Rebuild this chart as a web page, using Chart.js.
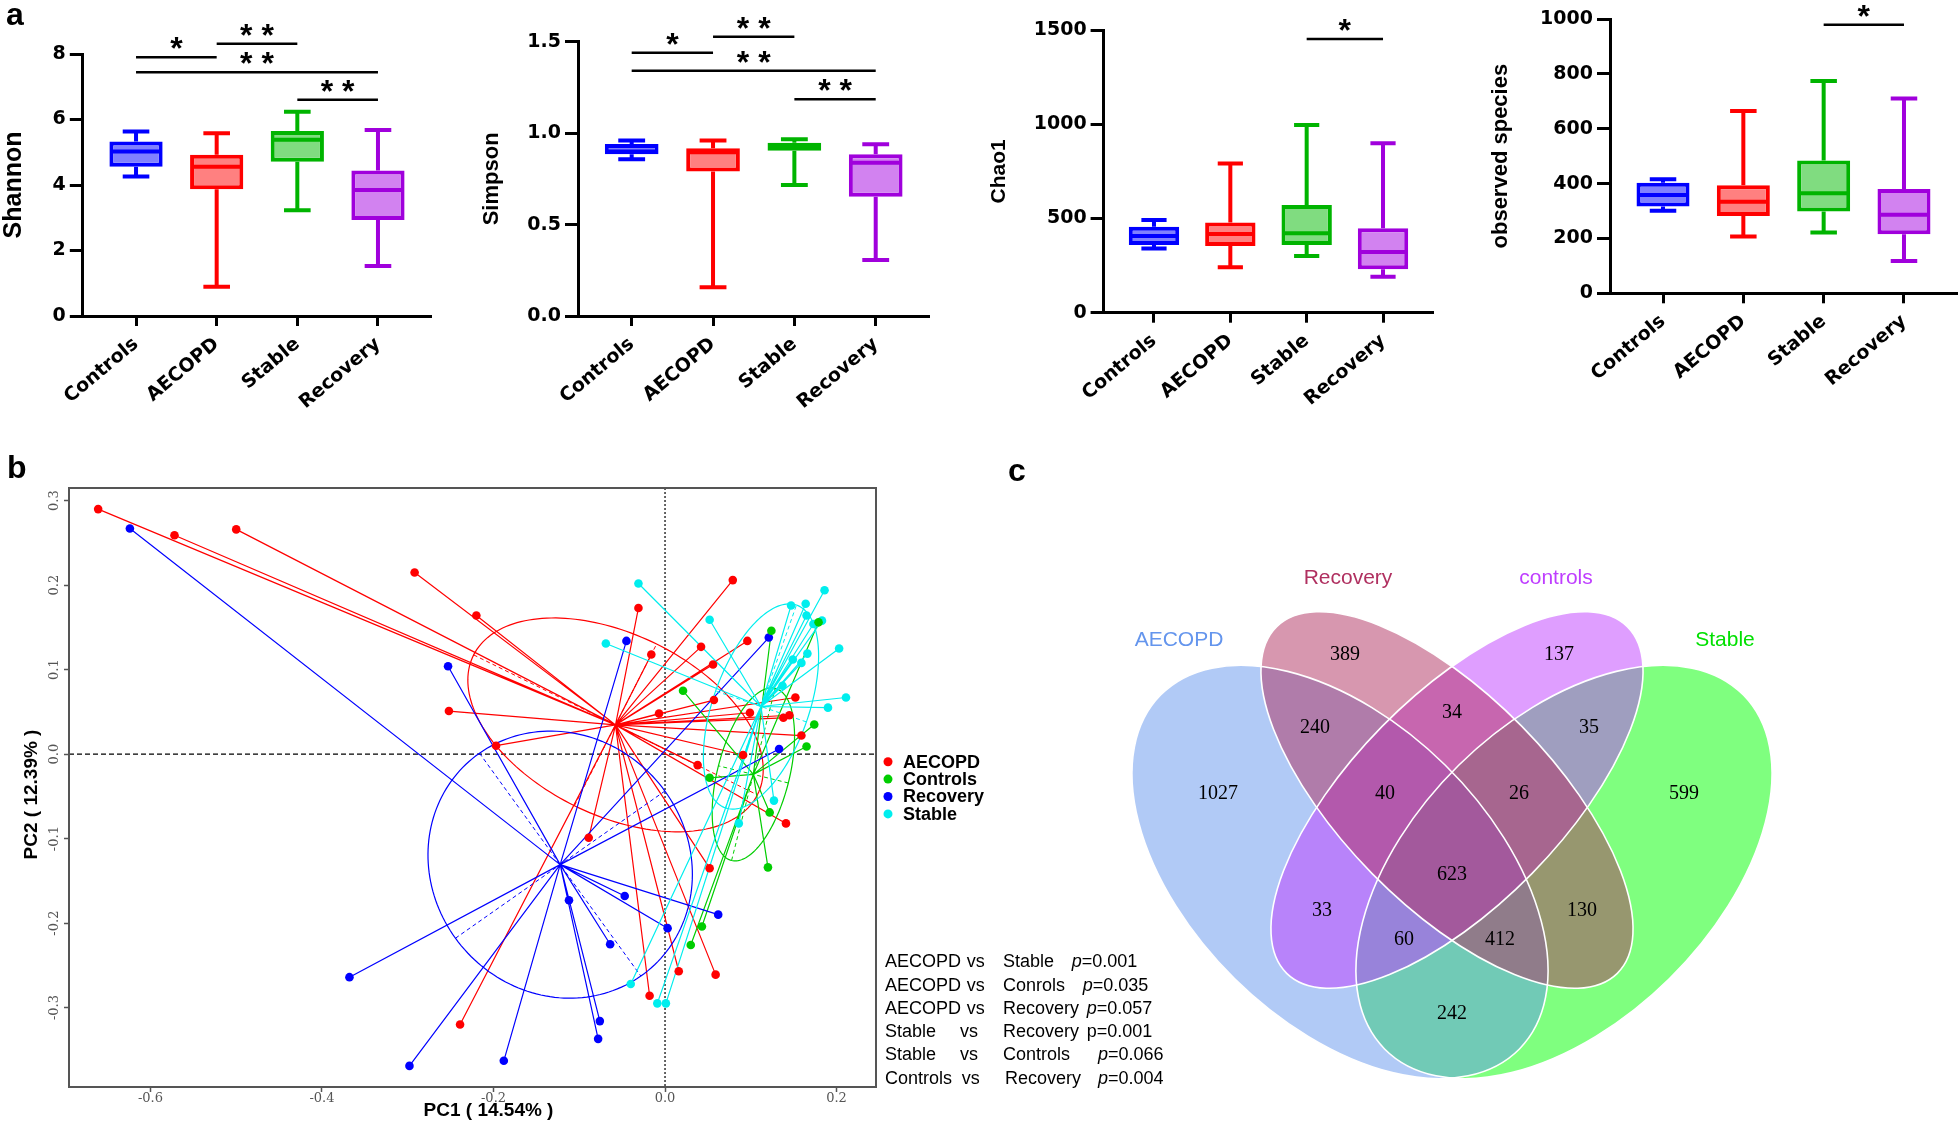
<!DOCTYPE html>
<html>
<head>
<meta charset="utf-8">
<script src="https://cdn.jsdelivr.net/npm/chart.js@4/dist/chart.umd.min.js"></script>
<style>
  html, body { margin:0; padding:0; background:#ffffff; }
  body { position:relative; width:1960px; height:1124px; overflow:hidden; font-family:"Liberation Sans", Arial, sans-serif; }
  canvas { position:absolute; }
  .panel { position:absolute; font-weight:bold; font-size:32px; line-height:1; color:#000; font-family:"Liberation Sans", Arial, sans-serif; }
  .pv { position:absolute; font-size:18px; line-height:1; color:#000; white-space:pre; font-family:"Liberation Sans", Arial, sans-serif; }
</style>
</head>
<body>
<script>
// ---------------- DATA ----------------
const categories = ['Controls', 'AECOPD', 'Stable', 'Recovery'];
// [min, Q1, median, Q3, max] per group
const shannonStats  = [[4.26,4.56,5.02,5.33,5.63],[0.89,3.87,4.56,4.92,5.58],[3.23,4.71,5.38,5.65,6.24],[1.53,2.93,3.85,4.44,5.68]];
const simpsonStats  = [[0.857,0.885,0.900,0.940,0.960],[0.157,0.790,0.895,0.917,0.960],[0.716,0.904,0.926,0.948,0.966],[0.306,0.652,0.838,0.884,0.939]];
const chao1Stats    = [[341,359,407,456,492],[241,354,417,478,792],[301,359,421,571,996],[191,230,322,448,899]];
const observedStats = [[301,316,358,403,416],[207,282,334,394,665],[222,298,365,484,774],[118,215,286,380,710]];
const shannonTicks  = [0,2,4,6,8];
const simpsonTicks  = [0,0.5,1.0,1.5];
const chao1Ticks    = [0,500,1000,1500];
const observedTicks = [0,200,400,600,800,1000];
// [groupA, groupB, bar height, label]
const shannonSig  = [[0,1,7.90,'*'],[1,2,8.31,'**'],[0,3,7.44,'**'],[2,3,6.60,'**']];
const simpsonSig  = [[0,1,1.440,'*'],[1,2,1.527,'**'],[0,3,1.341,'**'],[2,3,1.185,'**']];
const chao1Sig    = [[2,3,1452,'*']];
const observedSig = [[2,3,979,'*']];

const pcGroups = ['AECOPD','Controls','Recovery','Stable'];
const aecopdPts = [[-0.661,0.290],[-0.572,0.259],[-0.500,0.266],[-0.292,0.215],[-0.252,0.051],[-0.220,0.164],[-0.197,0.010],[-0.031,0.173],[-0.016,0.118],[0.079,0.206],[0.042,0.127],[0.056,0.106],[0.096,0.134],[-0.007,0.048],[0.057,0.064],[0.152,0.067],[0.099,0.049],[0.138,0.043],[0.145,0.046],[0.159,0.022],[0.091,-0.001],[0.038,-0.013],[-0.089,-0.099],[-0.239,-0.320],[-0.018,-0.286],[0.016,-0.257],[0.059,-0.261],[0.052,-0.135],[0.141,-0.082]];
const controlsPts = [[0.021,0.075],[0.124,0.146],[0.179,0.156],[0.174,0.035],[0.165,0.009],[0.052,-0.028],[0.122,-0.069],[0.120,-0.134],[0.043,-0.204],[0.030,-0.226]];
const recoveryPts = [[-0.624,0.267],[-0.253,0.104],[-0.045,0.134],[0.121,0.138],[0.133,0.006],[-0.368,-0.264],[-0.298,-0.369],[-0.188,-0.363],[-0.112,-0.173],[-0.047,-0.168],[-0.064,-0.225],[0.003,-0.206],[0.062,-0.190],[-0.076,-0.316],[-0.078,-0.337]];
const stablePts = [[-0.031,0.202],[-0.069,0.131],[0.052,0.159],[0.147,0.176],[0.164,0.178],[0.186,0.194],[0.165,0.164],[0.173,0.154],[0.183,0.158],[0.203,0.125],[0.166,0.119],[0.149,0.112],[0.159,0.108],[0.137,0.081],[0.211,0.067],[0.190,0.055],[0.127,-0.055],[0.086,-0.082],[-0.040,-0.272],[-0.009,-0.295],[0.001,-0.295]];
// confidence ellipses: [semi-major, semi-minor, angle deg] in PC units
const pcEllipses = [[0.185,0.107,-26.6],[0.105,0.042,76],[0.162,0.150,-54.5],[0.127,0.056,71]];
const pcXTicks = [-0.6,-0.4,-0.2,0.0,0.2];
const pcYTicks = [-0.3,-0.2,-0.1,0.0,0.1,0.2,0.3];
const pcXTitle = 'PC1 ( 14.54% )';
const pcYTitle = 'PC2 ( 12.39% )';
const pvRows = [
  ['AECOPD','vs','Stable','p','=0.001',true],
  ['AECOPD','vs','Conrols','p','=0.035',true],
  ['AECOPD','vs','Recovery','p','=0.057',true],
  ['Stable','vs','Recovery','p','=0.001',false],
  ['Stable','vs','Controls','p','=0.066',true],
  ['Controls','vs','Recovery','p','=0.004',true]
];

const vennSets = ['AECOPD','Recovery','controls','Stable'];
// regions: A, R, C, S, AR, RC, CS, ARC, RCS, ARCS, AC, RS, ACS, ARS, AS
const vennCounts = [1027,389,137,599,240,34,35,40,26,623,33,130,60,412,242];

// ---------------- STYLE / LAYOUT ----------------
const boxStroke = ['#0000FF','#FF0000','#00B400','#A000DC'];
const boxFill   = ['#8080FF','#FF8080','#80DC80','#D282F0'];
const pcColors  = ['#FF0000','#00CD00','#0000FF','#00EEEE'];
const vennColors = ['#6495ED','#B03060','#BF3EFF','#00FF00'];
const vennLabelColors = ['#6495ED','#B03060','#BF3EFF','#00E000'];

const boxPanels = [
  {stats:shannonStats, ticks:shannonTicks, sig:shannonSig, title:'Shannon', dec:0},
  {stats:simpsonStats, ticks:simpsonTicks, sig:simpsonSig, title:'Simpson', dec:1},
  {stats:chao1Stats, ticks:chao1Ticks, sig:chao1Sig, title:'Chao1', dec:0},
  {stats:observedStats, ticks:observedTicks, sig:observedSig, title:'observed species', dec:0}
];
const boxLayout = [
  {left:0,    w:460, h:420, padTop:54,   padRight:28.8, yW:82.8,  xH:104,   titleSize:25, titlePad:1.5},
  {left:470,  w:480, h:420, padTop:41.7, padRight:20.6, yW:108,   xH:104,   titleSize:22, titlePad:11},
  {left:975,  w:470, h:420, padTop:30,   padRight:11.6, yW:128.6, xH:107.3, titleSize:21, titlePad:13.5},
  {left:1478, w:482, h:420, padTop:19,   padRight:3,    yW:132,   xH:126.7, titleSize:22, titlePad:12}
];
const vennShapes = [ // geometry in page pixels
  {cx:1340, cy:872, a:252, b:150, rot:44.6},   // AECOPD
  {cx:1447, cy:800, a:243, b:105, rot:45.5},   // Recovery
  {cx:1457, cy:800, a:243, b:105, rot:-45.5},  // controls
  {cx:1564, cy:872, a:252, b:150, rot:-44.6}   // Stable
];
const vennDrawOrder = [3,0,2,1];
const vennCountPos = [[1218,794],[1345,655],[1559,655],[1684,794],[1315,728],[1452,713],[1589,728],[1385,794],[1519,794],[1452,875],[1322,911],[1582,911],[1404,940],[1500,940],[1452,1014]];
const vennSetLabelPos = [[1179,640],[1348,578],[1556,578],[1725,640]];

Chart.defaults.font.family = "'Liberation Sans', Arial, sans-serif";
Chart.defaults.color = '#000';

function addCanvas(id, left, top, w, h) {
  const c = document.createElement('canvas');
  c.id = id; c.width = w; c.height = h;
  c.style.left = left + 'px'; c.style.top = top + 'px';
  c.style.width = w + 'px'; c.style.height = h + 'px';
  document.body.appendChild(c);
  return c;
}

// ---------------- PANEL a: box plots ----------------
function makeBoxChart(i) {
  const L = boxLayout[i], P = boxPanels[i];
  const cv = addCanvas('box' + i, L.left, 0, L.w, L.h);
  const yMax = P.ticks[P.ticks.length - 1];
  const whiskers = {
    id: 'whiskers' + i,
    afterDatasetsDraw(chart) {
      const {ctx, scales: {x, y}} = chart;
      const meta = chart.getDatasetMeta(0);
      ctx.save();
      P.stats.forEach((s, k) => {
        const el = meta.data[k];
        const cx = el.x, w = el.width;
        const py = s.map(v => y.getPixelForValue(v));
        ctx.strokeStyle = boxStroke[k]; ctx.lineWidth = 4; ctx.lineCap = 'butt';
        ctx.beginPath();
        ctx.moveTo(cx, py[3]); ctx.lineTo(cx, py[4]);
        ctx.moveTo(cx, py[1]); ctx.lineTo(cx, py[0]);
        ctx.moveTo(cx - w / 4, py[4]); ctx.lineTo(cx + w / 4, py[4]);
        ctx.moveTo(cx - w / 4, py[0]); ctx.lineTo(cx + w / 4, py[0]);
        ctx.moveTo(cx - w / 2 + 2, py[2]); ctx.lineTo(cx + w / 2 - 2, py[2]);
        ctx.stroke();
      });
      ctx.strokeStyle = '#000'; ctx.fillStyle = '#000'; ctx.lineWidth = 2.5;
      ctx.font = "bold 32px 'Liberation Sans', Arial, sans-serif";
      ctx.textAlign = 'center'; ctx.textBaseline = 'alphabetic';
      P.sig.forEach(([a, b, v, lab]) => {
        const x1 = x.getPixelForValue(a), x2 = x.getPixelForValue(b), yy = y.getPixelForValue(v);
        ctx.beginPath(); ctx.moveTo(x1, yy); ctx.lineTo(x2, yy); ctx.stroke();
        ctx.fillText(lab.split('').join(' '), (x1 + x2) / 2, yy + 2);
      });
      ctx.restore();
    }
  };
  new Chart(cv, {
    type: 'bar',
    data: {
      datasets: [{
        data: P.stats.map((s, k) => ({x: k, y: [s[1], s[3]]})),
        backgroundColor: boxFill, borderColor: boxStroke, borderWidth: 4,
        borderSkipped: false, barPercentage: 0.66, categoryPercentage: 1, inflateAmount: 0
      }]
    },
    options: {
      responsive: false, animation: false, events: [], devicePixelRatio: 1,
      layout: {padding: {left: 0, top: L.padTop, right: L.padRight, bottom: 0}},
      plugins: {legend: {display: false}, tooltip: {enabled: false}},
      scales: {
        x: {
          type: 'linear', min: -0.66, max: 3.66, offset: false,
          afterBuildTicks: s => { s.ticks = categories.map((c, k) => ({value: k})); },
          afterFit: s => { s.height = L.xH; s.paddingLeft = 0; s.paddingRight = 0; },
          ticks: {autoSkip: false, minRotation: 40, maxRotation: 40, padding: 7, color: '#000',
                  font: {family: "'DejaVu Sans', sans-serif", weight: 'bold', size: 19},
                  callback: v => categories[v]},
          grid: {display: true, drawOnChartArea: false, drawTicks: true, tickLength: 10, tickWidth: 3, tickColor: '#000', offset: false},
          border: {display: true, width: 3, color: '#000'}
        },
        y: {
          min: 0, max: yMax,
          afterBuildTicks: s => { s.ticks = P.ticks.map(v => ({value: v})); },
          afterFit: s => { s.width = L.yW; s.paddingTop = 0; s.paddingBottom = 0; },
          ticks: {autoSkip: false, padding: 4, color: '#000',
                  font: {family: "'DejaVu Sans', sans-serif", weight: 'bold', size: 19},
                  callback: v => Number(v).toFixed(P.dec)},
          title: {display: true, text: P.title, color: '#000',
                  font: {family: "'Liberation Sans', Arial, sans-serif", weight: 'bold', size: L.titleSize, lineHeight: 1},
                  padding: {top: L.titlePad, bottom: 0}},
          grid: {display: true, drawOnChartArea: false, drawTicks: true, tickLength: 13, tickWidth: 3, tickColor: '#000'},
          border: {display: true, width: 3, color: '#000'}
        }
      }
    },
    plugins: [whiskers]
  });
}
for (let i = 0; i < 4; i++) makeBoxChart(i);

// ---------------- PANEL b: PCoA ----------------
const pcSets = [aecopdPts, controlsPts, recoveryPts, stablePts];
function centroid(pts) {
  let sx = 0, sy = 0;
  pts.forEach(p => { sx += p[0]; sy += p[1]; });
  return [sx / pts.length, sy / pts.length];
}
const pcPlugin = {
  id: 'pcoa',
  beforeDatasetsDraw(chart) {
    const {ctx, chartArea: ca, scales: {x, y}} = chart;
    ctx.save();
    ctx.beginPath(); ctx.rect(ca.left, ca.top, ca.right - ca.left, ca.bottom - ca.top); ctx.clip();
    const x0 = x.getPixelForValue(0), y0 = y.getPixelForValue(0);
    ctx.lineWidth = 1.3; ctx.strokeStyle = '#000'; ctx.setLineDash([5, 3]);
    ctx.beginPath(); ctx.moveTo(ca.left, y0); ctx.lineTo(ca.right, y0); ctx.stroke();
    ctx.strokeStyle = '#333'; ctx.lineWidth = 1.5; ctx.setLineDash([2, 2]);
    ctx.beginPath(); ctx.moveTo(x0, ca.top); ctx.lineTo(x0, ca.bottom); ctx.stroke();
    ctx.setLineDash([]);
    pcSets.forEach((pts, g) => {
      const c = centroid(pts);
      const cxp = x.getPixelForValue(c[0]), cyp = y.getPixelForValue(c[1]);
      ctx.strokeStyle = pcColors[g]; ctx.lineWidth = 1.2;
      ctx.beginPath();
      pts.forEach(p => { ctx.moveTo(cxp, cyp); ctx.lineTo(x.getPixelForValue(p[0]), y.getPixelForValue(p[1])); });
      ctx.stroke();
      const [a, b, angDeg] = pcEllipses[g];
      const ph = angDeg * Math.PI / 180, cp = Math.cos(ph), sp = Math.sin(ph);
      ctx.beginPath();
      for (let k = 0; k <= 180; k++) {
        const t = k / 180 * 2 * Math.PI;
        const dx = a * Math.cos(t) * cp - b * Math.sin(t) * sp;
        const dy = a * Math.cos(t) * sp + b * Math.sin(t) * cp;
        const px = x.getPixelForValue(c[0] + dx), py = y.getPixelForValue(c[1] + dy);
        if (k === 0) ctx.moveTo(px, py); else ctx.lineTo(px, py);
      }
      ctx.stroke();
      ctx.setLineDash([4, 3]); ctx.lineWidth = 1;
      ctx.beginPath();
      ctx.moveTo(x.getPixelForValue(c[0] - a * cp), y.getPixelForValue(c[1] - a * sp));
      ctx.lineTo(x.getPixelForValue(c[0] + a * cp), y.getPixelForValue(c[1] + a * sp));
      ctx.moveTo(x.getPixelForValue(c[0] + b * sp), y.getPixelForValue(c[1] - b * cp));
      ctx.lineTo(x.getPixelForValue(c[0] - b * sp), y.getPixelForValue(c[1] + b * cp));
      ctx.stroke();
      ctx.setLineDash([]);
    });
    ctx.restore();
  },
  afterDraw(chart) {
    const {ctx, chartArea: ca} = chart;
    ctx.save();
    ctx.strokeStyle = '#555'; ctx.lineWidth = 2;
    ctx.strokeRect(ca.left, ca.top, ca.right - ca.left, ca.bottom - ca.top);
    ctx.fillStyle = '#000';
    ctx.font = "bold 19px 'Liberation Sans', Arial, sans-serif";
    ctx.textAlign = 'center'; ctx.textBaseline = 'middle';
    ctx.fillText(pcXTitle, (ca.left + ca.right) / 2 + 16, ca.bottom + 24);
    ctx.save();
    ctx.translate(ca.left - 37, (ca.top + ca.bottom) / 2 + 7);
    ctx.rotate(-Math.PI / 2);
    ctx.fillText(pcYTitle, 0, 0);
    ctx.restore();
    // legend
    ctx.font = "bold 18px 'Liberation Sans', Arial, sans-serif";
    ctx.textAlign = 'left';
    chart.data.datasets.forEach((ds, g) => {
      const ly = 321.7 + g * 17.4;
      ctx.fillStyle = ds.pointBackgroundColor;
      ctx.beginPath(); ctx.arc(888, ly, 4.5, 0, 2 * Math.PI); ctx.fill();
      ctx.fillStyle = '#000';
      ctx.fillText(ds.label, 903, ly + 1);
    });
    ctx.restore();
  }
};
const pcCanvas = addCanvas('pcoa', 0, 440, 1100, 684);
new Chart(pcCanvas, {
  type: 'scatter',
  data: {
    datasets: pcSets.map((pts, g) => ({
      label: pcGroups[g],
      data: pts.map(p => ({x: p[0], y: p[1]})),
      pointRadius: 4.3, pointBackgroundColor: pcColors[g], pointBorderWidth: 0, showLine: false
    }))
  },
  options: {
    responsive: false, animation: false, events: [], devicePixelRatio: 1,
    layout: {padding: {left: 0, top: 48, right: 224, bottom: 0}},
    plugins: {legend: {display: false}, tooltip: {enabled: false}},
    scales: {
      x: {
        type: 'linear', min: -0.695, max: 0.246,
        afterBuildTicks: s => { s.ticks = pcXTicks.map(v => ({value: v})); },
        afterFit: s => { s.height = 37; s.paddingLeft = 0; s.paddingRight = 0; },
        ticks: {autoSkip: false, minRotation: 0, maxRotation: 0, padding: -1, color: '#555',
                font: {family: "'DejaVu Serif', serif", size: 13}, callback: v => Number(v).toFixed(1)},
        grid: {display: true, drawOnChartArea: false, drawTicks: true, tickLength: 5, tickWidth: 1.5, tickColor: '#555'},
        border: {display: false}
      },
      y: {
        type: 'linear', min: -0.394, max: 0.315,
        afterBuildTicks: s => { s.ticks = pcYTicks.map(v => ({value: v})); },
        afterFit: s => { s.width = 69; s.paddingTop = 0; s.paddingBottom = 0; },
        ticks: {autoSkip: false, minRotation: 90, maxRotation: 90, crossAlign: 'center', padding: -3, color: '#555',
                font: {family: "'DejaVu Serif', serif", size: 13}, callback: v => Number(v).toFixed(1)},
        grid: {display: true, drawOnChartArea: false, drawTicks: true, tickLength: 5, tickWidth: 1.5, tickColor: '#555'},
        border: {display: false}
      }
    }
  },
  plugins: [pcPlugin]
});

// ---------------- PANEL c: Venn ----------------
const vennPlugin = {
  id: 'venn',
  beforeDatasetsDraw(chart) {
    const {ctx, scales: {x, y}} = chart;
    const path = e => {
      ctx.beginPath();
      ctx.ellipse(x.getPixelForValue(e.cx), y.getPixelForValue(e.cy),
                  Math.abs(x.getPixelForValue(e.cx + e.a) - x.getPixelForValue(e.cx)),
                  Math.abs(x.getPixelForValue(e.cx + e.b) - x.getPixelForValue(e.cx)),
                  e.rot * Math.PI / 180, 0, 2 * Math.PI);
    };
    ctx.save();
    ctx.globalAlpha = 0.5;
    vennDrawOrder.forEach(k => { ctx.fillStyle = vennColors[k]; path(vennShapes[k]); ctx.fill(); });
    ctx.globalAlpha = 1;
    ctx.strokeStyle = '#ffffff'; ctx.lineWidth = 1.6;
    vennShapes.forEach(e => { path(e); ctx.stroke(); });
    ctx.restore();
  },
  afterDatasetsDraw(chart) {
    const {ctx, scales: {x, y}} = chart;
    const meta = chart.getDatasetMeta(0);
    ctx.save();
    ctx.fillStyle = '#000';
    ctx.font = "20px 'Liberation Serif', 'Times New Roman', serif";
    ctx.textAlign = 'center'; ctx.textBaseline = 'middle';
    vennCounts.forEach((v, i) => { ctx.fillText(String(v), meta.data[i].x, meta.data[i].y); });
    ctx.font = "21px 'Liberation Sans', Arial, sans-serif";
    vennSets.forEach((s, i) => {
      ctx.fillStyle = vennLabelColors[i];
      ctx.fillText(s, x.getPixelForValue(vennSetLabelPos[i][0]), y.getPixelForValue(vennSetLabelPos[i][1]));
    });
    ctx.restore();
  }
};
const vennCanvas = addCanvas('venn', 1100, 520, 860, 604);
new Chart(vennCanvas, {
  type: 'scatter',
  data: {datasets: [{data: vennCounts.map((v, i) => ({x: vennCountPos[i][0], y: vennCountPos[i][1], n: v})), pointRadius: 0}]},
  options: {
    responsive: false, animation: false, events: [], devicePixelRatio: 1,
    layout: {padding: 0},
    plugins: {legend: {display: false}, tooltip: {enabled: false}},
    scales: {
      x: {type: 'linear', min: 1100, max: 1960, display: false},
      y: {type: 'linear', min: 520, max: 1124, reverse: true, display: false}
    }
  },
  plugins: [vennPlugin]
});

// ---------------- HTML text: panel letters & p-values ----------------
function addDiv(cls, text, left, top) {
  const d = document.createElement('div');
  d.className = cls; d.textContent = text;
  d.style.left = left + 'px'; d.style.top = top + 'px';
  document.body.appendChild(d);
  return d;
}
addDiv('panel', 'a', 6, -2);
addDiv('panel', 'b', 7, 451);
addDiv('panel', 'c', 1008, 454);
const pvRowY = [961, 984.3, 1007.3, 1031, 1054, 1077.3];
const pvColX = [[885,966.7,1003,1071.7],[885,966.7,1003,1082.7],[885,966.7,1003,1086.7],[885,960,1003,1086.7],[885,960,1003,1098],[885,961.7,1005,1098]];
pvRows.forEach((r, i) => {
  const top = pvRowY[i] - 8.8;
  addDiv('pv', r[0], pvColX[i][0], top);
  addDiv('pv', r[1], pvColX[i][1], top);
  addDiv('pv', r[2], pvColX[i][2], top);
  const d = addDiv('pv', '', pvColX[i][3], top);
  const p = document.createElement('span'); p.textContent = r[3];
  if (r[5]) p.style.fontStyle = 'italic';
  d.appendChild(p);
  d.appendChild(document.createTextNode(r[4]));
});
</script>
</body>
</html>
